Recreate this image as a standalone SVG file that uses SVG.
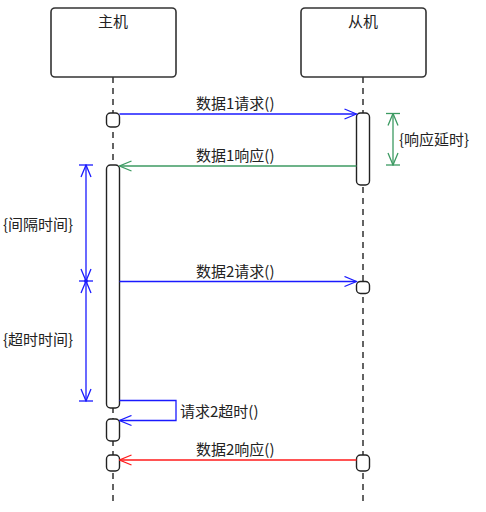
<svg xmlns="http://www.w3.org/2000/svg" width="486" height="512" viewBox="0 0 486 512">
<style>
.box{fill:#fff;stroke:#333;stroke-width:1.6}
.act{fill:#fff;stroke:#222;stroke-width:1.4}
.life{stroke:#222;stroke-width:1.4;stroke-dasharray:6 5;fill:none}
.t{font-family:"Noto Sans CJK SC","Microsoft YaHei",sans-serif;font-size:15px;fill:#222}
.title{font-family:"Noto Sans CJK SC","Microsoft YaHei",sans-serif;font-size:15px;fill:#222;text-anchor:middle}
.blue{stroke:#1a1aff;stroke-width:1.3;fill:none}
.green{stroke:#3c9a62;stroke-width:1.3;fill:none}
.red{stroke:#ff1a1a;stroke-width:1.3;fill:none}
</style>
<defs>
<marker id="ab" markerWidth="14" markerHeight="12" refX="13" refY="6" orient="auto-start-reverse" markerUnits="userSpaceOnUse"><path d="M1,1 L13,6 L1,11" fill="none" stroke="#1a1aff" stroke-width="1.3"/></marker>
<marker id="ag" markerWidth="14" markerHeight="12" refX="13" refY="6" orient="auto-start-reverse" markerUnits="userSpaceOnUse"><path d="M1,1 L13,6 L1,11" fill="none" stroke="#3c9a62" stroke-width="1.3"/></marker>
<marker id="ar" markerWidth="14" markerHeight="12" refX="13" refY="6" orient="auto-start-reverse" markerUnits="userSpaceOnUse"><path d="M1,1 L13,6 L1,11" fill="none" stroke="#ff1a1a" stroke-width="1.3"/></marker>
</defs>

<g id="lifelines">
<line class="life" x1="113" y1="77" x2="113" y2="502"/>
<line class="life" x1="363" y1="77" x2="363" y2="502"/>
</g>

<g id="host">
<rect class="box" x="51" y="8" width="125" height="69" rx="4"/>
<text class="title" x="113" y="27">主机</text>
</g>
<g id="slave">
<rect class="box" x="301" y="8" width="125" height="69" rx="4"/>
<text class="title" x="363" y="27">从机</text>
</g>

<g id="activations">
<rect class="act" x="106.5" y="113" width="13" height="14" rx="4"/>
<rect class="act" x="356.5" y="113" width="13" height="72" rx="4"/>
<rect class="act" x="106.5" y="165" width="13" height="243" rx="4"/>
<rect class="act" x="356.5" y="281.5" width="13" height="12" rx="4"/>
<rect class="act" x="106.5" y="419" width="13" height="22" rx="4"/>
<rect class="act" x="106.5" y="455" width="13" height="16" rx="4"/>
<rect class="act" x="356.5" y="455" width="13" height="16" rx="4"/>
</g>

<g id="connectors">
<line class="blue" x1="119.5" y1="114" x2="356.5" y2="114" marker-end="url(#ab)"/>
<line class="green" x1="356.5" y1="166" x2="119.5" y2="166" marker-end="url(#ag)"/>
<line class="blue" x1="119.5" y1="281.5" x2="356.5" y2="281.5" marker-end="url(#ab)"/>
<polyline class="blue" points="119.5,400.5 176,400.5 176,420.5 119.5,420.5" marker-end="url(#ab)"/>
<line class="red" x1="356.5" y1="460" x2="119.5" y2="460" marker-end="url(#ar)"/>
<line class="green" x1="393" y1="113.5" x2="393" y2="165" marker-start="url(#ag)" marker-end="url(#ag)"/>
<line class="green" x1="386" y1="113.5" x2="400" y2="113.5"/>
<line class="green" x1="386" y1="165" x2="400" y2="165"/>
<line class="blue" x1="86" y1="165" x2="86" y2="281" marker-start="url(#ab)" marker-end="url(#ab)"/>
<line class="blue" x1="86" y1="281" x2="86" y2="401" marker-start="url(#ab)" marker-end="url(#ab)"/>
<line class="blue" x1="79" y1="165" x2="93" y2="165"/>
<line class="blue" x1="79" y1="281" x2="93" y2="281"/>
<line class="blue" x1="79" y1="401" x2="93" y2="401"/>
<circle cx="86" cy="281" r="2" fill="#1a1aff"/>
</g>

<g id="labels">
<text class="t" x="196" y="109">数据1请求()</text>
<text class="t" x="196" y="161">数据1响应()</text>
<text class="t" x="196" y="277">数据2请求()</text>
<text class="t" x="180" y="417">请求2超时()</text>
<text class="t" x="196" y="455">数据2响应()</text>
<text class="t" x="399" y="145">{响应延时}</text>
<text class="t" x="3" y="230">{间隔时间}</text>
<text class="t" x="3" y="345">{超时时间}</text>
</g>
</svg>
